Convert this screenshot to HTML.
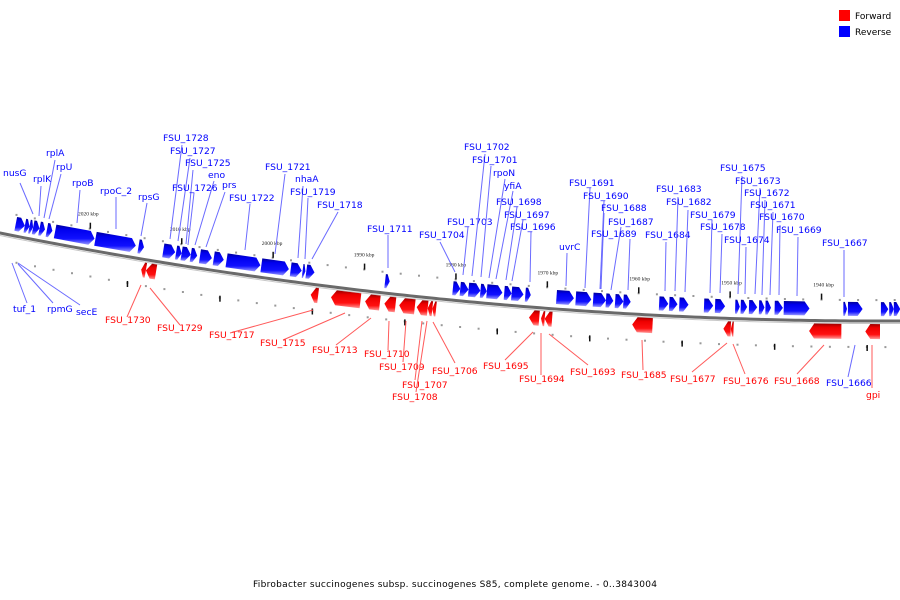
<!DOCTYPE html>
<html><head><meta charset="utf-8"><style>
html,body{margin:0;padding:0;background:#fff;}
svg{display:block;font-family:"DejaVu Sans","Liberation Sans",sans-serif;}
</style></head><body>
<svg id="chart" width="900" height="600" viewBox="0 0 900 600">
<defs>
<linearGradient id="gb" x1="0" y1="0" x2="0" y2="1"><stop offset="0" stop-color="#00009a"/><stop offset="0.25" stop-color="#0000ee"/><stop offset="0.7" stop-color="#1010ff"/><stop offset="1" stop-color="#9a9aff"/></linearGradient>
<linearGradient id="gr" x1="0" y1="0" x2="0" y2="1"><stop offset="0" stop-color="#9a0000"/><stop offset="0.25" stop-color="#ee0000"/><stop offset="0.7" stop-color="#ff1010"/><stop offset="1" stop-color="#ff9a9a"/></linearGradient>
</defs>
<g id="ticks"></g>
<path id="axis" fill="none" stroke="#6a6a6a" stroke-width="3"/>
<path id="axis2" fill="none" stroke="#c8c8c8" stroke-width="1"/>
<g id="genes"></g>
<g id="labels" font-size="9.2"></g>
<g font-size="9">
<rect x="839" y="10" width="11" height="11" fill="#ff0000"/>
<text x="855" y="19">Forward</text>
<rect x="839" y="26" width="11" height="11" fill="#0000ff"/>
<text x="855" y="35">Reverse</text>
</g>
<text x="455" y="587" text-anchor="middle" font-size="9" textLength="404">Fibrobacter succinogenes subsp. succinogenes S85, complete genome. - 0..3843004</text>
</svg>
<script>
// Genome coordinates (kbp)
const tickKbp = [2020, 2010, 2000, 1990, 1980, 1970, 1960, 1950, 1940];
const reverseStart = [2027.9,2026.9,2026.4,2026.0,2025.3,2024.5,2023.6,2019.2,2014.5,2011.8,2010.4,2009.8,2008.8,2007.8,2006.3,2004.9,2001.1,1997.9,1996.6,1996.2,1987.6,1980.2,1979.4,1978.5,1977.2,1976.5,1974.6,1973.8,1972.3,1968.9,1966.8,1964.9,1963.5,1962.5,1961.6,1957.7,1956.6,1955.5,1952.8,1951.6,1949.4,1948.8,1947.9,1946.8,1946.1,1945.1,1944.1,1937.6,1937.1,1933.5,1932.6,1932.1];
const reverseEnd   = [2026.9,2026.4,2026.0,2025.3,2024.7,2023.9,2019.3,2014.8,2013.9,2010.5,2009.8,2008.8,2008.1,2006.5,2005.2,2001.2,1998.1,1996.7,1996.3,1995.3,1987.1,1979.4,1978.5,1977.2,1976.5,1974.8,1973.8,1972.5,1971.7,1967.0,1965.1,1963.5,1962.7,1961.6,1960.8,1956.7,1955.7,1954.5,1951.8,1950.5,1948.9,1948.1,1947.0,1946.2,1945.5,1944.2,1941.3,1937.2,1935.5,1932.7,1932.1,1931.4];
const forwardStart = [2029.9,2013.8,2013.3,1995.4,1993.2,1989.5,1987.4,1985.8,1983.9,1982.7,1982.2,1971.7,1970.4,1970.0,1960.5,1950.6,1949.8,1941.3,1935.2];
const forwardEnd   = [2029.3,2013.3,2012.2,1994.6,1990.0,1987.9,1986.2,1984.1,1982.7,1982.2,1981.8,1970.6,1970.0,1969.2,1958.3,1949.8,1949.5,1937.8,1933.6];

const NS='http://www.w3.org/2000/svg';
function xOf(k){return 86+(2020-k)*9.19;}
function yOf(x){return 233+0.1996*x-1.131e-4*x*x;}
function nrm(x){const s=0.1996-2*1.131e-4*x;const l=Math.hypot(1,s);return [-s/l,1/l];}
function pt(x,o){const n=nrm(x);return [x+n[0]*o,yOf(x)+n[1]*o];}
function mk(tag,attrs,parent){const e=document.createElementNS(NS,tag);for(const k in attrs)e.setAttribute(k,attrs[k]);parent.appendChild(e);return e;}

let d='',d2='';
for(let x=-5;x<=905;x+=5){d+=(x===-5?'M':'L')+x+','+yOf(x).toFixed(2);d2+=(x===-5?'M':'L')+x+','+(yOf(x)+2.5).toFixed(2);}
document.getElementById('axis').setAttribute('d',d);
document.getElementById('axis2').setAttribute('d',d2);

const tg=document.getElementById('ticks');
for(let k=2030;k>=1930;k-=2){
  const x=xOf(k);
  const a=pt(x,-21),b=pt(x+9,26);
  const d1=mk('rect',{x:(a[0]-1).toFixed(1),y:(a[1]-1).toFixed(1),width:2,height:2,fill:'#999'},tg);
  
  
  const d3=mk('rect',{x:(b[0]-1).toFixed(1),y:(b[1]-1).toFixed(1),width:2,height:2,fill:'#999'},tg);
  
  
}
tickKbp.forEach(k=>{
  const x=xOf(k);const a=pt(x,-24);
  const t=mk('rect',{x:(a[0]-0.7).toFixed(1),y:(a[1]-3).toFixed(1),width:1.5,height:6,fill:'#111'},tg);
  
  
  const x2=xOf(k-5);const b=pt(x2,27);
  const t2=mk('rect',{x:(b[0]-0.7).toFixed(1),y:(b[1]-3).toFixed(1),width:1.5,height:6,fill:'#111'},tg);
  
  
  const lab=mk('text',{x:(x-8).toFixed(1),y:(a[1]-10).toFixed(1),'font-size':'5.5','font-family':'Liberation Serif, serif',fill:'#222'},tg);
  lab.textContent=k+' kbp';
  
  
});

const gg=document.getElementById('genes');
function gene(k1,k2,top,bot,right,fill,name){
  const x1=xOf(k1),x2=xOf(k2);
  const L=x2-x1;const head=Math.min(5,L*0.6);
  let P;
  const mid=(top+bot)/2;
  if(right){P=[pt(x1,top),pt(x2-head,top),pt(x2,mid),pt(x2-head,bot),pt(x1,bot)];}
  else{P=[pt(x2,top),pt(x1+head,top),pt(x1,mid),pt(x1+head,bot),pt(x2,bot)];}
  const p=mk('polygon',{points:P.map(q=>q[0].toFixed(1)+','+q[1].toFixed(1)).join(' '),fill:fill},gg);
  
  
}
reverseStart.forEach((s,i)=>gene(s,reverseEnd[i],-19,-5,true,'url(#gb)','reverse-gene'));
forwardStart.forEach((s,i)=>gene(s,forwardEnd[i],3,18,false,'url(#gr)','forward-gene'));

const labels=[
['nusG',3,176,20,183,33,214,'b'],['rplK',33,182,41,186,39,216,'b'],['rplA',46,156,55,160,44,218,'b'],['rpU',56,170,61,174,49,219,'b'],
['rpoB',72,186,80,190,77,223,'b'],['rpoC_2',100,194,116,197,116,229,'b'],['rpsG',138,200,147,203,141,236,'b'],
['FSU_1728',163,141,182,145,170,239,'b'],['FSU_1727',170,154,190,158,178,241,'b'],['FSU_1725',185,166,193,170,186,244,'b'],
['eno',208,178,214,181,195,245,'b'],['FSU_1726',172,191,194,193,188,245,'b'],['prs',222,188,225,192,206,247,'b'],
['FSU_1722',229,201,250,204,245,250,'b'],['FSU_1721',265,170,285,174,275,254,'b'],['nhaA',295,182,303,186,298,258,'b'],
['FSU_1719',290,195,308,198,305,259,'b'],['FSU_1718',317,208,338,212,312,259,'b'],['FSU_1711',367,232,388,235,388,268,'b'],
['FSU_1704',419,238,440,242,455,272,'b'],['FSU_1703',447,225,468,227,463,275,'b'],['FSU_1702',464,150,485,154,472,276,'b'],
['FSU_1701',472,163,491,166,481,277,'b'],['rpoN',493,176,505,179,489,278,'b'],['yfiA',504,189,513,191,496,279,'b'],
['FSU_1698',496,205,517,207,506,280,'b'],['FSU_1697',504,218,523,220,512,281,'b'],['FSU_1696',510,230,531,232,530,282,'b'],
['uvrC',559,250,567,253,566,286,'b'],['FSU_1691',569,186,590,188,585,288,'b'],['FSU_1690',583,199,604,201,600,289,'b'],
['FSU_1688',601,211,604,213,601,289,'b'],['FSU_1687',608,225,621,227,611,290,'b'],['FSU_1689',591,237,630,239,628,290,'b'],
['FSU_1684',645,238,666,242,665,291,'b'],['FSU_1683',656,192,678,197,675,291,'b'],['FSU_1682',666,205,688,210,685,292,'b'],
['FSU_1679',690,218,712,220,710,293,'b'],['FSU_1678',700,230,722,234,720,293,'b'],['FSU_1675',720,171,742,176,738,294,'b'],
['FSU_1673',735,184,760,188,755,294,'b'],['FSU_1674',724,243,746,247,745,294,'b'],['FSU_1672',744,196,765,200,762,295,'b'],
['FSU_1671',750,208,773,212,770,295,'b'],['FSU_1670',759,220,780,225,779,295,'b'],['FSU_1669',776,233,798,237,797,296,'b'],
['FSU_1667',822,246,844,250,844,297,'b'],
['tuf_1',13,312,27,303,12,263,'b'],['rpmG',47,312,53,303,18,264,'b'],['secE',76,315,80,305,18,263,'b'],
['FSU_1666',826,386,848,377,855,345,'b'],
['FSU_1730',105,323,127,317,141,285,'r'],['FSU_1729',157,331,180,325,150,288,'r'],['FSU_1717',209,338,230,333,313,310,'r'],
['FSU_1715',260,346,283,340,345,313,'r'],['FSU_1713',312,353,336,345,371,318,'r'],['FSU_1710',364,357,388,350,389,321,'r'],
['FSU_1709',379,370,403,362,406,321,'r'],['FSU_1707',402,388,415,380,422,321,'r'],['FSU_1708',392,400,416,392,427,321,'r'],
['FSU_1706',432,374,455,363,433,322,'r'],['FSU_1695',483,369,505,360,533,332,'r'],['FSU_1694',519,382,541,375,541,333,'r'],
['FSU_1693',570,375,588,365,549,334,'r'],['FSU_1685',621,378,643,370,642,340,'r'],['FSU_1677',670,382,692,372,727,343,'r'],
['FSU_1676',723,384,745,374,733,344,'r'],['FSU_1668',774,384,797,374,824,345,'r'],['gpi',866,398,872,388,872,345,'r']
];
const lg=document.getElementById('labels');
labels.forEach(l=>{
  const c=l[7]==='b'?'#0000ff':'#ff0000';const lc=l[7]==='b'?'#6a6aff':'#ff5a5a';
  const ln=mk('line',{x1:l[3],y1:l[4],x2:l[5],y2:l[6],stroke:lc,'stroke-width':1},lg);
  
  
  const t=mk('text',{x:l[1],y:l[2],fill:c},lg);
  t.textContent=l[0];
  
  
});
</script>
</body></html>
